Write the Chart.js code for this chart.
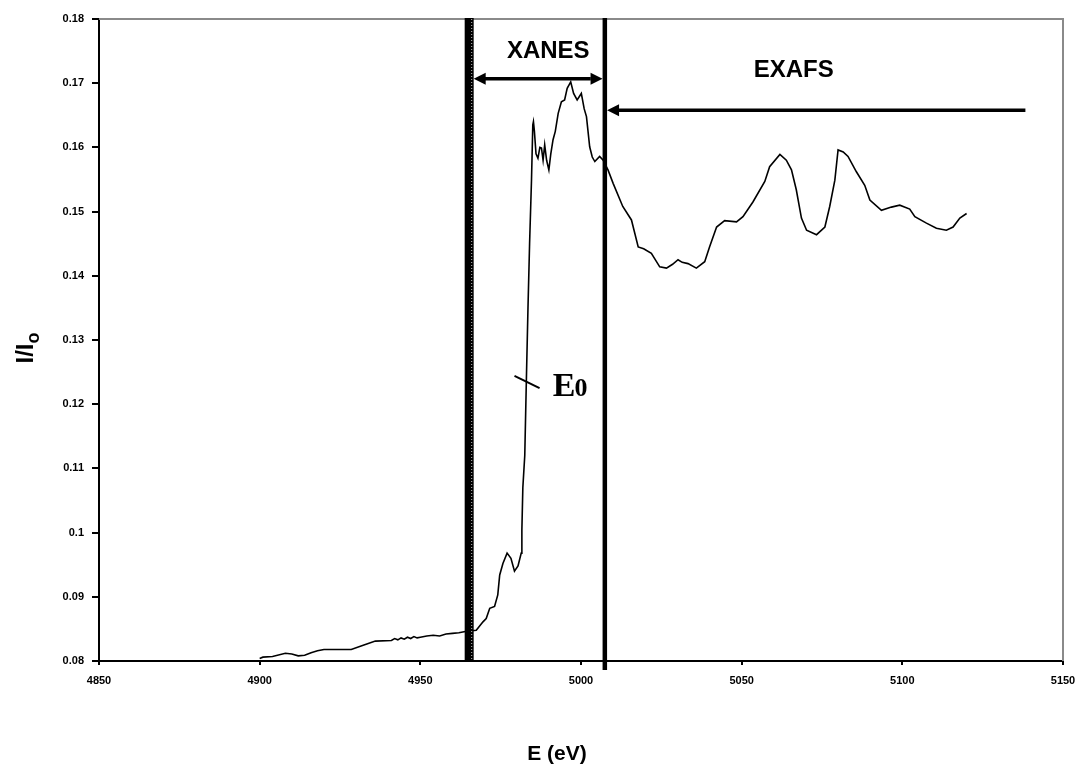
<!DOCTYPE html>
<html>
<head>
<meta charset="utf-8">
<script src="https://cdn.jsdelivr.net/npm/chart.js@4.4.1/dist/chart.umd.min.js"></script>
<style>
  html, body { margin: 0; padding: 0; background: #fff; }
  #wrap { width: 1080px; height: 765px; }
</style>
</head>
<body>
<div id="wrap"><canvas id="xas" width="1080" height="765"></canvas></div>
<script>
// energy (eV) and normalised intensity I/I0
const energy = [
  4900, 4901, 4904, 4908, 4910, 4912, 4914, 4916, 4918, 4920, 4928.5, 4932, 4936,
  4941, 4942, 4943, 4944, 4945, 4946, 4947, 4948, 4949, 4950, 4952, 4954, 4956,
  4958, 4960, 4962, 4964, 4966, 4967.4, 4969.5, 4970.5, 4971.6, 4973.1, 4974.1,
  4974.7, 4975.7, 4977, 4978.2, 4979.3, 4980.4, 4981.4, 4981.6, 4981.9, 4982.5,
  4983, 4983.5, 4984, 4984.6, 4985, 4985.2, 4985.5, 4986, 4986.6, 4987.2, 4987.7,
  4988.2, 4988.7, 4989.3, 4990, 4990.6, 4991.3, 4992, 4992.9, 4993.9, 4994.9,
  4995.7, 4996.8, 4997.7, 4998.8, 5000.1, 5001, 5001.7, 5002.7, 5003.5, 5004.3,
  5005.8, 5006.9, 5008.4, 5010, 5013, 5015.7, 5017.8, 5019.5, 5021.9, 5024.5,
  5026.6, 5028.5, 5030.2, 5031.5, 5033.3, 5035.9, 5038.5, 5040, 5042.2, 5044.7,
  5048.4, 5050.4, 5053.5, 5057.2, 5058.7, 5061.9, 5063.9, 5065.5, 5067, 5068.6,
  5070.2, 5073.3, 5075.9, 5077.4, 5079, 5080, 5081.6, 5083.1, 5085.7, 5088.3,
  5089.9, 5093.5, 5096.6, 5099.2, 5102.3, 5103.9, 5107.5, 5110.6, 5113.7, 5115.8,
  5117.9, 5120
];
const intensity = [
  0.0804, 0.0806, 0.0807, 0.0812, 0.0811, 0.0808, 0.0809, 0.0813, 0.0816, 0.0818, 0.0818, 0.0824, 0.0831,
  0.0832, 0.0835, 0.0833, 0.0836, 0.0834, 0.0837, 0.0835, 0.0838, 0.0836, 0.0837, 0.0839, 0.0840, 0.0839,
  0.0842, 0.0843, 0.0844, 0.0846, 0.0847, 0.0848, 0.0861, 0.0866, 0.0882, 0.0885, 0.0903,
  0.0934, 0.0952, 0.0968, 0.0960, 0.0940, 0.0948, 0.0968, 0.1004, 0.1070, 0.1120,
  0.1238, 0.1350, 0.1450, 0.1550, 0.1635, 0.1640, 0.1625, 0.1590, 0.1583, 0.1600, 0.1599,
  0.1580, 0.1604, 0.1580, 0.1565, 0.1590, 0.1612, 0.1625, 0.1653, 0.1671, 0.1674,
  0.1692, 0.1702, 0.1684, 0.1674, 0.1684, 0.1660, 0.1648, 0.1601, 0.1585, 0.1578,
  0.1586, 0.1580, 0.1565, 0.1544, 0.1508, 0.1487, 0.1445, 0.1442, 0.1435, 0.1414,
  0.1412, 0.1418, 0.1425, 0.1421, 0.1419, 0.1412, 0.1422, 0.1445, 0.1476, 0.1486,
  0.1484, 0.1492, 0.1515, 0.1547, 0.1570, 0.1589, 0.1580, 0.1565, 0.1534, 0.1490,
  0.1471, 0.1464, 0.1476, 0.1508, 0.1549, 0.1596, 0.1593, 0.1586, 0.1562, 0.1541,
  0.1518, 0.1502, 0.1507, 0.1510, 0.1504, 0.1492, 0.1482, 0.1474, 0.1471, 0.1476,
  0.1490, 0.1497
];
const xTickLabels = ['4850', '4900', '4950', '5000', '5050', '5100', '5150'];
const yTickLabels = ['0.08', '0.09', '0.1', '0.11', '0.12', '0.13', '0.14', '0.15', '0.16', '0.17', '0.18'];

// edge markers (eV)
const edgeStart = 4965.2;
const edgeEnd = 5007.4;

const points = energy.map((e, i) => ({ x: e, y: intensity[i] }));

// arrow helper
function arrowHead(c, x, y, dir) {
  c.beginPath();
  c.moveTo(x, y);
  c.lineTo(x - dir * 12, y - 6);
  c.lineTo(x - dir * 12, y + 6);
  c.closePath();
  c.fill();
}

const decorations = {
  id: 'decorations',
  afterDatasetsDraw(chart) {
    const c = chart.ctx;
    const xs = chart.scales.x, ys = chart.scales.y;
    const a = chart.chartArea;
    c.save();

    // grey frame on top and right
    c.strokeStyle = '#8a8a8a';
    c.lineWidth = 2;
    c.beginPath();
    c.moveTo(a.left, a.top);
    c.lineTo(a.right, a.top);
    c.lineTo(a.right, a.bottom);
    c.stroke();

    // thick edge-start line with dotted stripe
    const x1 = xs.getPixelForValue(edgeStart);
    c.fillStyle = '#000';
    c.fillRect(x1 - 4.5, a.top - 1, 9, a.bottom - a.top + 2);
    c.strokeStyle = '#bbb';
    c.lineWidth = 1;
    c.setLineDash([1, 2]);
    c.beginPath();
    c.moveTo(x1 + 2.5, a.top);
    c.lineTo(x1 + 2.5, a.bottom);
    c.stroke();
    c.setLineDash([]);

    // edge-end line
    const x2 = xs.getPixelForValue(edgeEnd);
    c.fillRect(x2 - 2.2, a.top - 1, 4.5, a.bottom - a.top + 10);

    // XANES double arrow
    const yA = ys.getPixelForValue(0.1707);
    c.strokeStyle = '#000';
    c.lineWidth = 3.5;
    c.beginPath();
    c.moveTo(x1 + 14, yA);
    c.lineTo(x2 - 14, yA);
    c.stroke();
    arrowHead(c, x1 + 4.5, yA, -1);
    arrowHead(c, x2 - 2.2, yA, 1);

    // EXAFS arrow
    const yB = ys.getPixelForValue(0.1658);
    const xEnd = xs.getPixelForValue(5138.3);
    c.beginPath();
    c.moveTo(x2 + 14, yB);
    c.lineTo(xEnd, yB);
    c.stroke();
    arrowHead(c, x2 + 2.3, yB, -1);

    // labels
    c.fillStyle = '#000';
    c.font = 'bold 24px "Liberation Sans", Arial, sans-serif';
    c.textAlign = 'center';
    c.textBaseline = 'middle';
    c.fillText('XANES', xs.getPixelForValue(4989.8), ys.getPixelForValue(0.1749));
    c.fillText('EXAFS', xs.getPixelForValue(5066.2), ys.getPixelForValue(0.1720));

    // E0 marker
    c.lineWidth = 2;
    c.beginPath();
    c.moveTo(xs.getPixelForValue(4979.3), ys.getPixelForValue(0.1244));
    c.lineTo(xs.getPixelForValue(4987.1), ys.getPixelForValue(0.1225));
    c.stroke();
    const ex = xs.getPixelForValue(4991.2), ey = ys.getPixelForValue(0.1212);
    c.textAlign = 'left';
    c.textBaseline = 'alphabetic';
    c.font = 'bold 34px "Liberation Serif", "Times New Roman", serif';
    c.fillText('E', ex, ey);
    const w = c.measureText('E').width;
    c.font = 'bold 26px "Liberation Serif", "Times New Roman", serif';
    c.fillText('0', ex + w - 1, ey);

    c.restore();
  },
  afterDraw(chart) {
    const c = chart.ctx;
    c.save();
    c.fillStyle = '#000';
    // x title
    c.font = 'bold 21px "Liberation Sans", Arial, sans-serif';
    c.textAlign = 'center';
    c.textBaseline = 'middle';
    c.fillText('E (eV)', 557, 754);
    // y title I/I0 with subscript
    c.translate(25, 348);
    c.rotate(-Math.PI / 2);
    c.font = 'bold 24px "Liberation Sans", Arial, sans-serif';
    const main = 'I/I';
    const mw = c.measureText(main).width;
    c.font = 'bold 18px "Liberation Sans", Arial, sans-serif';
    const sw = c.measureText('o').width;
    const start = -(mw + sw) / 2;
    c.textAlign = 'left';
    c.textBaseline = 'alphabetic';
    c.font = 'bold 24px "Liberation Sans", Arial, sans-serif';
    c.fillText(main, start, 8);
    c.font = 'bold 18px "Liberation Sans", Arial, sans-serif';
    c.fillText('o', start + mw, 14);
    c.restore();
  }
};

const tickFont = { family: '"Liberation Sans", Arial, sans-serif', size: 11, weight: 'bold' };

new Chart(document.getElementById('xas').getContext('2d'), {
  type: 'scatter',
  data: {
    datasets: [{
      data: points,
      showLine: true,
      borderColor: '#000',
      borderWidth: 1.6,
      pointRadius: 0,
      tension: 0
    }]
  },
  options: {
    responsive: false,
    animation: false,
    layout: { padding: { left: 0, right: 17, top: 19, bottom: 0 } },
    plugins: {
      legend: { display: false },
      tooltip: { enabled: false }
    },
    scales: {
      x: {
        type: 'linear',
        min: 4850,
        max: 5150,
        afterFit(scale) {
          scale.height = 104;
          scale.paddingLeft = 0;
          scale.paddingRight = 0;
        },
        ticks: {
          stepSize: 50,
          color: '#000',
          font: tickFont,
          padding: 9,
          maxRotation: 0,
          callback: (v, i) => xTickLabels[i]
        },
        grid: { drawOnChartArea: false, drawTicks: true, tickLength: 4, color: '#000', lineWidth: 2 },
        border: { color: '#000', width: 2 }
      },
      y: {
        min: 0.08,
        max: 0.18,
        afterFit(scale) { scale.width = 99; },
        ticks: {
          stepSize: 0.01,
          color: '#000',
          font: tickFont,
          padding: 8,
          callback: (v, i) => yTickLabels[i]
        },
        grid: { drawOnChartArea: false, drawTicks: true, tickLength: 7, color: '#000', lineWidth: 2 },
        border: { color: '#000', width: 2 }
      }
    }
  },
  plugins: [decorations]
});
</script>
</body>
</html>
